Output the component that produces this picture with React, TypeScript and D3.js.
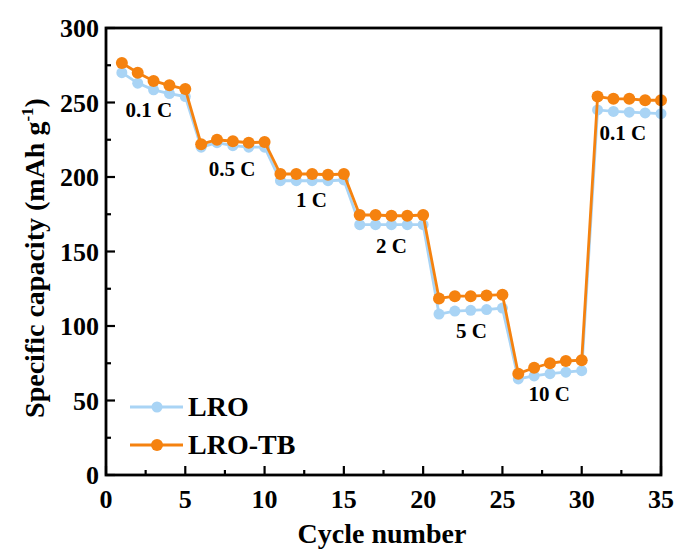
import React, { useEffect, useRef } from 'react';
import * as d3 from 'd3';

// cycle index 1..35
const cycles = d3.range(1, 36);

const lro = [
  270, 263, 258.5, 256, 254,
  220, 223, 221, 220, 220,
  197.5, 197.5, 197.5, 197.5, 198,
  168, 168, 168, 168, 168,
  108, 110, 110.5, 111, 112,
  64.5, 66.5, 68, 69, 70,
  245, 244, 243.5, 243, 242.5,
];

const lroTB = [
  276.5, 270, 264.5, 261.5, 259,
  222, 225, 224, 223, 223.5,
  202, 202, 202, 201.5, 202,
  174.5, 174.5, 174, 174, 174.5,
  118.5, 120, 120, 120.5, 121,
  68, 72, 75, 76.5, 77,
  254, 252.5, 252.5, 251.5, 251.5,
];

// rate labels: anchored at (cycle, capacity) of the text baseline centre
const rateLabels = [
  { text: '0.1 C', cycle: 2.7, value: 240 },
  { text: '0.5 C', cycle: 7.95, value: 201 },
  { text: '1 C', cycle: 12.95, value: 180 },
  { text: '2 C', cycle: 18, value: 149 },
  { text: '5 C', cycle: 23.05, value: 92 },
  { text: '10 C', cycle: 27.95, value: 50 },
  { text: '0.1 C', cycle: 32.6, value: 225 },
];

const seriesDefs = [
  { name: 'LRO', values: lro, color: '#a9d4f5', r: 5.5 },
  { name: 'LRO-TB', values: lroTB, color: '#f5820f', r: 6 },
];

const FONT = '"Liberation Serif", "Times New Roman", serif';

export default function App() {
  const ref = useRef<SVGSVGElement>(null);

  useEffect(() => {
    const svg = d3.select(ref.current);
    svg.selectAll('*').remove();

    const left = 106, right = 661, top = 28, bottom = 475;
    const x = d3.scaleLinear().domain([0, 35]).range([left, right]);
    const y = d3.scaleLinear().domain([0, 300]).range([bottom, top]);

    const g = svg.append('g');

    // series
    seriesDefs.forEach((s) => {
      const line = d3.line<number>().x((d, i) => x(cycles[i])).y((d) => y(d));
      g.append('path')
        .datum(s.values)
        .attr('d', line)
        .attr('fill', 'none')
        .attr('stroke', s.color)
        .attr('stroke-width', 2.8);
      g.selectAll(null)
        .data(s.values)
        .enter()
        .append('circle')
        .attr('cx', (d, i) => x(cycles[i]))
        .attr('cy', (d) => y(d))
        .attr('r', s.r)
        .attr('fill', s.color);
    });

    // frame
    g.append('rect')
      .attr('x', left)
      .attr('y', top)
      .attr('width', right - left)
      .attr('height', bottom - top)
      .attr('fill', 'none')
      .attr('stroke', '#000')
      .attr('stroke-width', 2.8);

    // x ticks (inward)
    const xAxis = g.append('g');
    d3.range(0, 35.1, 2.5).forEach((v) => {
      const major = v % 5 === 0;
      xAxis.append('line')
        .attr('x1', x(v)).attr('x2', x(v))
        .attr('y1', bottom).attr('y2', bottom - (major ? 9 : 5))
        .attr('stroke', '#000').attr('stroke-width', 2.2);
      if (major) {
        xAxis.append('text')
          .attr('x', x(v)).attr('y', bottom + 33)
          .attr('text-anchor', 'middle')
          .attr('font-family', FONT).attr('font-weight', 'bold').attr('font-size', 26)
          .text(v);
      }
    });

    // y ticks (inward)
    const yAxis = g.append('g');
    d3.range(0, 301, 25).forEach((v) => {
      const major = v % 50 === 0;
      yAxis.append('line')
        .attr('x1', left).attr('x2', left + (major ? 9 : 5))
        .attr('y1', y(v)).attr('y2', y(v))
        .attr('stroke', '#000').attr('stroke-width', 2.2);
      if (major) {
        yAxis.append('text')
          .attr('x', left - 7).attr('y', y(v) + 9)
          .attr('text-anchor', 'end')
          .attr('font-family', FONT).attr('font-weight', 'bold').attr('font-size', 26)
          .text(v);
      }
    });

    // axis titles
    g.append('text')
      .attr('x', 382).attr('y', 543)
      .attr('text-anchor', 'middle')
      .attr('font-family', FONT).attr('font-weight', 'bold').attr('font-size', 28)
      .text('Cycle number');

    const yt = g.append('text')
      .attr('transform', 'translate(44,258) rotate(-90)')
      .attr('text-anchor', 'middle')
      .attr('font-family', FONT).attr('font-weight', 'bold').attr('font-size', 28);
    yt.append('tspan').text('Specific capacity (mAh g');
    yt.append('tspan').attr('dy', -11).attr('font-size', 17).text('-1');
    yt.append('tspan').attr('dy', 11).text(')');

    // rate labels
    rateLabels.forEach((l) => {
      g.append('text')
        .attr('x', x(l.cycle)).attr('y', y(l.value))
        .attr('text-anchor', 'middle')
        .attr('font-family', FONT).attr('font-weight', 'bold').attr('font-size', 21)
        .text(l.text);
    });

    // legend
    seriesDefs.forEach((s, i) => {
      const ly = 407 + i * 38;
      g.append('line')
        .attr('x1', 130).attr('x2', 183)
        .attr('y1', ly).attr('y2', ly)
        .attr('stroke', s.color).attr('stroke-width', 2.8);
      g.append('circle').attr('cx', 157).attr('cy', ly).attr('r', s.r).attr('fill', s.color);
      g.append('text')
        .attr('x', 188).attr('y', ly + 9)
        .attr('font-family', FONT).attr('font-weight', 'bold').attr('font-size', 28)
        .text(s.name);
    });
  }, []);

  return (
    <svg
      ref={ref}
      width={678}
      height={549}
      style={{ position: 'absolute', left: 0, top: 0, background: '#fff' }}
    />
  );
}
